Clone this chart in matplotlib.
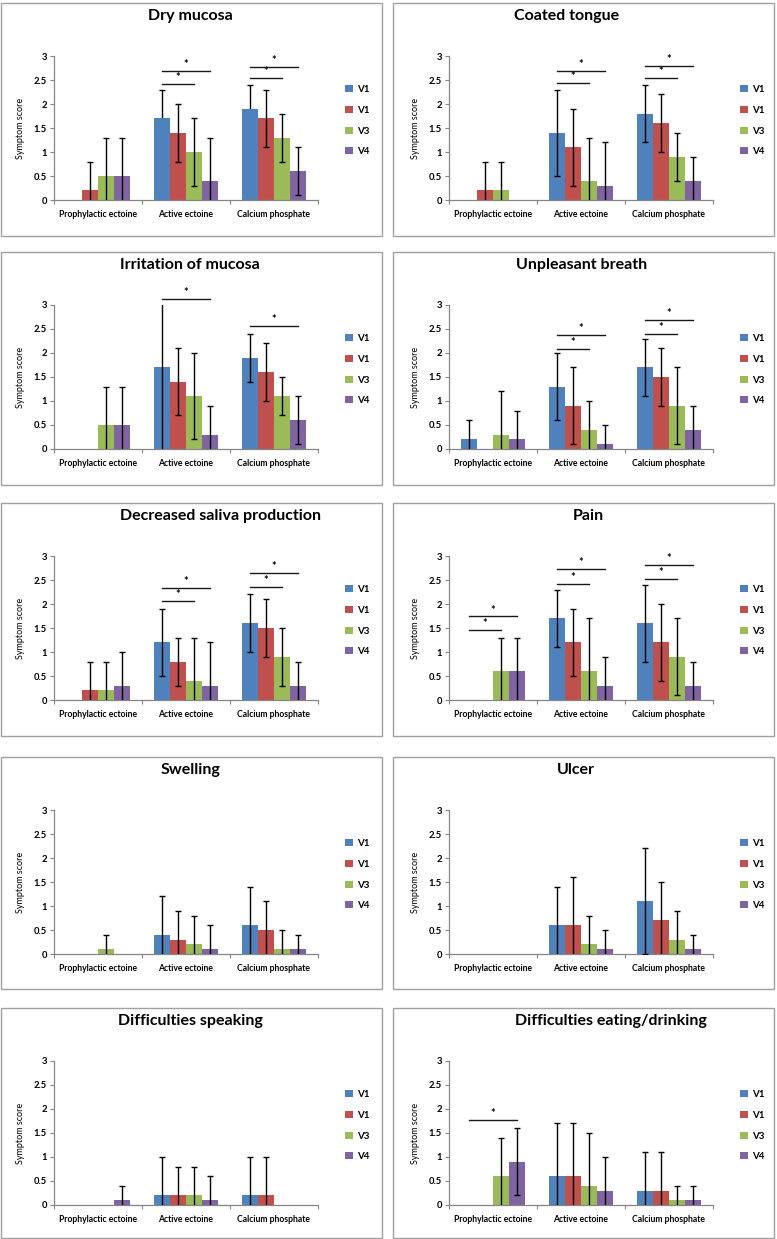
import matplotlib.pyplot as plt
from matplotlib.patches import Patch, Rectangle

plt.rcParams['font.family'] = ['Lato', 'DejaVu Sans']

groups = ['Prophylactic ectoine', 'Active ectoine', 'Calcium phosphate']
visits = ['V1', 'V1', 'V3', 'V4']
colors = ['#4f81bd', '#c0504d', '#9bbb59', '#8064a2']

# rows = visit series, columns = groups
dry_mucosa = [[0, 1.7, 1.9], [0.2, 1.4, 1.7], [0.5, 1.0, 1.3], [0.5, 0.4, 0.6]]
dry_mucosa_sd = [[0, 0.6, 0.5], [0.6, 0.6, 0.6], [0.8, 0.7, 0.5], [0.8, 0.9, 0.5]]
dry_mucosa_sig = [(1, 0, 2, 2.42), (1, 0, 3, 2.68), (2, 0, 2, 2.54), (2, 0, 3, 2.77)]

coated_tongue = [[0, 1.4, 1.8], [0.2, 1.1, 1.6], [0.2, 0.4, 0.9], [0, 0.3, 0.4]]
coated_tongue_sd = [[0, 0.9, 0.6], [0.6, 0.8, 0.6], [0.6, 0.9, 0.5], [0, 0.9, 0.5]]
coated_tongue_sig = [(1, 0, 2, 2.44), (1, 0, 3, 2.68), (2, 0, 2, 2.55), (2, 0, 3, 2.79)]

irritation = [[0, 1.7, 1.9], [0, 1.4, 1.6], [0.5, 1.1, 1.1], [0.5, 0.3, 0.6]]
irritation_sd = [[0, 1.8, 0.5], [0, 0.7, 0.6], [0.8, 0.9, 0.4], [0.8, 0.6, 0.5]]
irritation_sig = [(1, 0, 3, 3.12), (2, 0, 3, 2.56)]

breath = [[0.2, 1.3, 1.7], [0, 0.9, 1.5], [0.3, 0.4, 0.9], [0.2, 0.1, 0.4]]
breath_sd = [[0.4, 0.7, 0.6], [0, 0.8, 0.6], [0.9, 0.6, 0.8], [0.6, 0.4, 0.5]]
breath_sig = [(1, 0, 2, 2.08), (1, 0, 3, 2.37), (2, 0, 2, 2.40), (2, 0, 3, 2.68)]

saliva = [[0, 1.2, 1.6], [0.2, 0.8, 1.5], [0.2, 0.4, 0.9], [0.3, 0.3, 0.3]]
saliva_sd = [[0, 0.7, 0.6], [0.6, 0.5, 0.6], [0.6, 0.9, 0.6], [0.7, 0.9, 0.5]]
saliva_sig = [(1, 0, 2, 2.07), (1, 0, 3, 2.33), (2, 0, 2, 2.35), (2, 0, 3, 2.64)]

pain = [[0, 1.7, 1.6], [0, 1.2, 1.2], [0.6, 0.6, 0.9], [0.6, 0.3, 0.3]]
pain_sd = [[0, 0.6, 0.8], [0, 0.7, 0.8], [0.7, 1.1, 0.8], [0.7, 0.6, 0.5]]
pain_sig = [(0, 0, 2, 1.45), (0, 0, 3, 1.74), (1, 0, 2, 2.41), (1, 0, 3, 2.72),
            (2, 0, 2, 2.52), (2, 0, 3, 2.81)]

swelling = [[0, 0.4, 0.6], [0, 0.3, 0.5], [0.1, 0.2, 0.1], [0, 0.1, 0.1]]
swelling_sd = [[0, 0.8, 0.8], [0, 0.6, 0.6], [0.3, 0.6, 0.4], [0, 0.5, 0.3]]

ulcer = [[0, 0.6, 1.1], [0, 0.6, 0.7], [0, 0.2, 0.3], [0, 0.1, 0.1]]
ulcer_sd = [[0, 0.8, 1.1], [0, 1.0, 0.8], [0, 0.6, 0.6], [0, 0.4, 0.3]]

speaking = [[0, 0.2, 0.2], [0, 0.2, 0.2], [0, 0.2, 0], [0.1, 0.1, 0]]
speaking_sd = [[0, 0.8, 0.8], [0, 0.6, 0.8], [0, 0.6, 0], [0.3, 0.5, 0]]

eating = [[0, 0.6, 0.3], [0, 0.6, 0.3], [0.6, 0.4, 0.1], [0.9, 0.3, 0.1]]
eating_sd = [[0, 1.1, 0.8], [0, 1.1, 0.8], [0.8, 1.1, 0.3], [0.7, 0.7, 0.3]]
eating_sig = [(0, 0, 3, 1.77)]

panels = [
    ('Dry mucosa', dry_mucosa, dry_mucosa_sd, dry_mucosa_sig),
    ('Coated tongue', coated_tongue, coated_tongue_sd, coated_tongue_sig),
    ('Irritation of mucosa', irritation, irritation_sd, irritation_sig),
    ('Unpleasant breath', breath, breath_sd, breath_sig),
    ('Decreased saliva production', saliva, saliva_sd, saliva_sig),
    ('Pain', pain, pain_sd, pain_sig),
    ('Swelling', swelling, swelling_sd, []),
    ('Ulcer', ulcer, ulcer_sd, []),
    ('Difficulties speaking', speaking, speaking_sd, []),
    ('Difficulties eating/drinking', eating, eating_sd, eating_sig),
]

W, H = 777, 1239
fig = plt.figure(figsize=(W / 100, H / 100), dpi=100)

# panel frames in pixels
col_left = [1, 393]
col_width = [381, 381]
row_top = [3, 252, 503, 757, 1008]
row_height = [233, 233, 233, 232, 230]
title_x = [189, 174, 189, 189, 219, 195, 190, 183, 189, 218]
bw = 0.182
grey = '#868686'


def fx(px):
    return px / W


def fy(py):
    return 1 - py / H


for k, (title, mean, sd, sig) in enumerate(panels):
    r, c = divmod(k, 2)
    px0, py0 = col_left[c], row_top[r]
    fig.add_artist(Rectangle((fx(px0), fy(py0 + row_height[r])), fx(col_width[c]),
                             row_height[r] / H, transform=fig.transFigure,
                             facecolor='white', edgecolor='#a0a0a0', lw=1, zorder=0))
    ax_l = px0 + (53 if c == 0 else 56)
    ax_t = py0 + 53
    ax_b = py0 + 197
    ax = fig.add_axes([fx(ax_l), fy(ax_b), fx(264), (ax_b - ax_t) / H])
    ax.patch.set_alpha(0)

    for i in range(4):
        xs = [g + (i - 1.5) * bw for g in range(3)]
        ax.bar(xs, mean[i], width=bw, color=colors[i], label=visits[i], zorder=2)
        keep = [j for j in range(3) if sd[i][j] > 0]
        if keep:
            # in the first panel the V1 error bars sit behind the bars
            z = 1 if (k == 0 and i == 0) else 3
            ax.errorbar([xs[j] for j in keep], [mean[i][j] for j in keep],
                        yerr=[sd[i][j] for j in keep],
                        fmt='none', ecolor='black', elinewidth=1,
                        capsize=2.2, capthick=1, zorder=z)

    for g, a, b, y in sig:
        x1 = g + (a - 1.5) * bw
        x2 = g + (b - 1.5) * bw
        ax.plot([x1, x2], [y, y], color='#1a1a1a', lw=1, clip_on=False, zorder=4)
        ax.text((x1 + x2) / 2, y + 0.02, '*', ha='center', va='bottom',
                fontsize=8, fontweight='bold', clip_on=False)

    ax.set_xlim(-0.5, 2.5)
    ax.set_ylim(0, 3)
    ax.set_yticks([0, 0.5, 1, 1.5, 2, 2.5, 3])
    ax.set_yticklabels(['0', '0.5', '1', '1.5', '2', '2.5', '3'])
    ax.set_xticks([-0.5, 0.5, 1.5, 2.5])
    ax.set_xticklabels([])
    ax.set_xticks([0, 1, 2], minor=True)
    ax.set_xticklabels(groups, minor=True)
    ax.tick_params(axis='x', which='minor', length=0, pad=7, labelsize=6.2)
    ax.tick_params(axis='x', which='major', length=3, color=grey, direction='out')
    ax.tick_params(axis='y', length=3, color=grey, pad=2, labelsize=6.8)
    for lab in ax.get_xticklabels(minor=True) + ax.get_yticklabels():
        lab.set_fontweight('bold')
    for s in ['top', 'right']:
        ax.spines[s].set_visible(False)
    for s in ['left', 'bottom']:
        ax.spines[s].set_color(grey)
        ax.spines[s].set_linewidth(0.9)

    ax.set_ylabel('Symptom score', fontsize=6.5, labelpad=6)

    handles = [Patch(facecolor=cl, edgecolor='none') for cl in colors]
    leg = ax.legend(handles, visits, loc='center left', bbox_to_anchor=(1.07, 0.55),
                    frameon=False, handlelength=0.75, handleheight=0.75,
                    handletextpad=0.5, labelspacing=1.2, fontsize=7)
    for t in leg.get_texts():
        t.set_fontweight('bold')

    fig.text(fx(px0 + title_x[k]), fy(py0 + 13), title, ha='center', va='center',
             fontsize=11.5, fontweight='bold')

plt.savefig('out.png', dpi=100)
